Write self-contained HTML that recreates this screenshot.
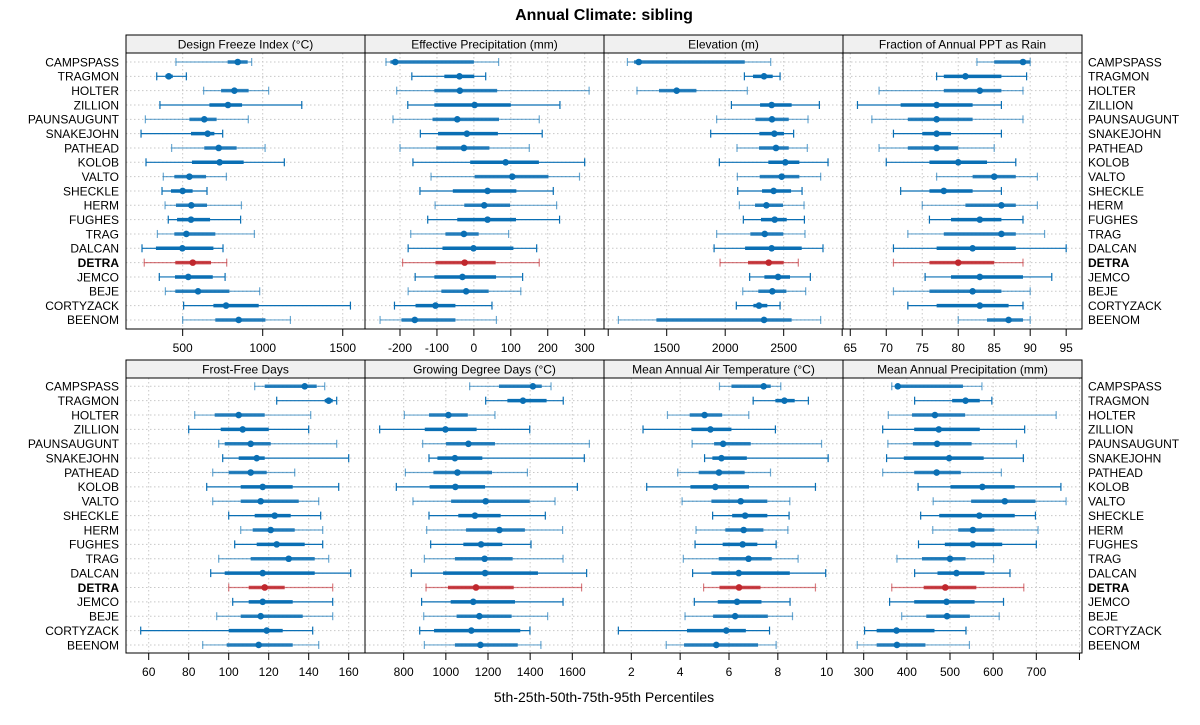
<!DOCTYPE html>
<html><head><meta charset="utf-8"><style>
html,body{margin:0;padding:0;background:#fff;}
svg{display:block;font-family:"Liberation Sans",Arial,sans-serif;}
</style></head><body>
<svg id="chart" width="1200" height="725" viewBox="0 0 1200 725">
<text x="604" y="20" text-anchor="middle" font-size="16" font-weight="bold">Annual Climate: sibling</text>
<text x="604" y="702" text-anchor="middle" font-size="14">5th-25th-50th-75th-95th Percentiles</text>
</svg>
<script>
const stations = ["CAMPSPASS","TRAGMON","HOLTER","ZILLION","PAUNSAUGUNT","SNAKEJOHN","PATHEAD","KOLOB","VALTO","SHECKLE","HERM","FUGHES","TRAG","DALCAN","DETRA","JEMCO","BEJE","CORTYZACK","BEENOM"];
const highlight = "DETRA";
const panelTitles = ["Design Freeze Index (°C)","Effective Precipitation (mm)","Elevation (m)","Fraction of Annual PPT as Rain","Frost-Free Days","Growing Degree Days (°C)","Mean Annual Air Temperature (°C)","Mean Annual Precipitation (mm)"];
const freezeIndex = [[458,781,844,906,931],[338,392,413,438,523],[631,740,823,912,1037],[358,667,783,871,1244],[267,542,635,712,910],[240,552,656,698,750],[431,635,725,837,1015],[271,558,731,881,1135],[379,448,542,646,773],[371,427,500,562,652],[390,458,554,652,867],[410,465,552,671,862],[342,448,523,704,948],[246,333,498,692,752],[260,454,563,677,775],[354,452,535,688,765],[392,454,596,792,981],[506,692,771,975,1548],[500,704,850,1017,1173]];
const effPrecip = [[-238,-226,-213,0,67],[-168,-80,-39,1,32],[-209,-107,-38,63,312],[-179,-107,2,100,233],[-219,-112,-45,68,177],[-145,-97,-19,65,185],[-200,-102,-27,42,150],[-165,-10,86,176,300],[-116,2,104,202,286],[-146,-57,37,115,215],[-105,-26,28,98,224],[-125,-45,37,114,232],[-171,-77,-27,13,94],[-178,-85,-1,107,170],[-193,-104,-25,59,177],[-159,-107,-31,60,132],[-178,-88,-21,40,127],[-215,-158,-104,-50,49],[-254,-196,-160,-50,61]];
const elevation = [[1164,1221,1261,2167,2389],[2164,2238,2332,2406,2469],[1246,1434,1585,1754,2189],[2053,2298,2397,2568,2805],[1927,2258,2400,2543,2708],[1876,2292,2420,2503,2585],[2101,2289,2434,2543,2702],[1950,2369,2514,2634,2879],[2104,2295,2483,2634,2816],[2107,2315,2414,2563,2657],[2121,2255,2352,2494,2674],[2155,2306,2423,2526,2677],[1927,2215,2338,2497,2682],[1905,2170,2397,2654,2836],[1956,2195,2372,2500,2625],[2209,2335,2452,2554,2728],[2150,2283,2403,2523,2688],[2095,2241,2289,2360,2469],[1087,1412,2332,2568,2816]];
const rainFraction = [[82.6,85,89,90,90],[77,78,81,86,89.5],[69,78,83,86,89],[66,72,77,82,86],[68,73,77,82,89],[71,75,77,79,86],[69,73,77,80,85],[70,76,80,84,88],[77,82,85,88,91],[72,76,78,82,86],[75,81,86,88,91],[76,79,83,86,89],[73,78,86,88,92],[71,77,82,88,95],[71,76,80,85,89],[75.4,79,83,89,93],[71,76,82,86,90],[73,77,83,87,89],[80,84,87,89,90]];
const frostFree = [[113,118,138,144,148],[124,148,150,152,154],[83,93,105,118,141],[80,96,107,120,140],[95,98,111,121,154],[97,105,114,118,160],[92,100,111,119,133],[89,106,117,132,155],[92,106,116,135,145],[100,113,123,131,146],[106,112,121,133,147],[103,114,124,138,147],[95,111,130,143,150],[91,98,117,143,161],[100,110,118,128,152],[102,110,117,132,152],[94,106,116,137,152],[56,100,119,127,142],[87,99,115,132,145]];
const growingDD = [[1113,1252,1413,1455,1499],[1189,1292,1366,1478,1557],[803,920,1012,1104,1233],[686,900,998,1146,1398],[890,1001,1107,1233,1681],[920,960,1043,1173,1657],[808,941,1055,1219,1387],[765,923,1045,1186,1624],[844,1025,1189,1398,1518],[920,1059,1138,1260,1472],[909,1096,1254,1375,1554],[928,1083,1167,1268,1404],[898,1043,1184,1317,1556],[836,987,1186,1437,1668],[906,1010,1143,1322,1644],[885,1023,1130,1328,1556],[895,1051,1159,1312,1483],[876,944,1121,1353,1399],[898,1043,1164,1341,1451]];
const meanTemp = [[5.61,6.1,7.42,7.71,8.12],[6.99,7.9,8.27,8.69,9.25],[3.48,4.39,5.0,5.72,6.81],[2.48,4.46,5.24,6.1,7.9],[4.49,5.39,5.76,6.89,9.79],[5.0,5.32,5.69,6.73,10.06],[3.9,4.76,5.59,6.64,7.7],[2.63,4.42,5.44,6.82,9.54],[4.08,5.28,6.48,7.57,8.49],[5.33,6.13,6.66,7.57,8.46],[4.65,5.85,6.6,7.41,8.41],[4.61,5.74,6.56,7.16,7.93],[4.13,5.58,6.8,7.75,8.83],[4.51,5.28,6.4,8.49,9.96],[4.96,5.61,6.41,7.29,9.54],[4.58,5.54,6.33,7.33,8.5],[4.2,5.35,6.25,7.59,8.6],[1.47,4.28,5.89,6.69,7.66],[3.43,4.16,5.48,7.19,7.93]];
const meanPrecip = [[365,376,379,530,574],[418,505,536,569,597],[357,412,465,535,746],[344,417,474,569,673],[356,414,470,550,654],[353,393,498,578,670],[344,417,469,525,619],[426,501,575,650,757],[461,549,627,698,769],[432,475,568,650,698],[460,519,553,603,704],[427,488,553,621,700],[377,435,500,536,601],[418,471,515,580,639],[365,439,489,561,671],[360,417,492,557,624],[388,445,493,546,614],[302,330,376,464,537],[285,330,377,443,545]];
const tickValues = [[500,1000,1500],[-200,-100,0,100,200,300],[1000,1500,2000,2500,3000],[65,70,75,80,85,90,95],[60,80,100,120,140,160],[800,1000,1200,1400,1600],[2,4,6,8,10],[300,400,500,600,700,800]];

const series = [freezeIndex,effPrecip,elevation,rainFraction,frostFree,growingDD,meanTemp,meanPrecip];
const domains = [[146,1639],[-294.8,352.3],[964,3007],[63.99,97.2],[48.65,168.15],[616.4,1750.4],[0.882,10.668],[252,805.9]];
const NS="http://www.w3.org/2000/svg";
const svg=document.getElementById('chart');
const colX=[126,365,604,843], colW=239;
const rowsLayout=[{hTop:35,hBot:53,pBot:329,y0:62,dy:14.33},{hTop:360,hBot:378,pBot:653,y0:386.3,dy:14.37}];
function mk(tag,attrs,parent){const e=document.createElementNS(NS,tag);for(const k in attrs)e.setAttribute(k,attrs[k]);(parent||svg).appendChild(e);return e;}

for(let p=0;p<8;p++){
  const r=Math.floor(p/4), c=p%4, L=rowsLayout[r];
  const x0=colX[c], x1=x0+colW, dom=domains[p];
  const sx=v=>x0+(v-dom[0])/(dom[1]-dom[0])*colW;
  const sy=i=>L.y0+i*L.dy;
  const g=mk('g',{});
  
  
  const strip=mk('rect',{x:x0,y:L.hTop,width:colW,height:L.hBot-L.hTop,fill:'#f0f0f0',stroke:'#000','stroke-width':1},g);
  
  
  const st=mk('text',{x:x0+colW/2,y:L.hTop+13.5,'text-anchor':'middle','font-size':12},g);
  st.textContent=panelTitles[p];
  
  
  for(let i=0;i<stations.length;i++){
    mk('line',{x1:x0,x2:x1,y1:sy(i),y2:sy(i),stroke:'#c8c8c8','stroke-dasharray':'1.5,2.5','stroke-width':1},g);
  }
  tickValues[p].forEach(t=>{
    const x=sx(t); if(x<x0-0.5||x>x1+0.5)return;
    mk('line',{x1:x,x2:x,y1:L.hBot,y2:L.pBot,stroke:'#c8c8c8','stroke-dasharray':'1.5,2.5','stroke-width':1},g);
    const tk=mk('line',{x1:x,x2:x,y1:L.pBot,y2:L.pBot+7,stroke:'#000','stroke-width':1},g);
    
    
    if(x>x0+6&&x<x1-6){
      const tl=mk('text',{x:x,y:L.pBot+23,'text-anchor':'middle','font-size':12},g);
      tl.textContent=t;
      
      
    }
  });
  series[p].forEach((q,i)=>{
    const col=stations[i]===highlight?'#c0272d':'#0a6fb4';
    const light=(i%2===0)?0.6:1;
    const y=sy(i);
    const bg=mk('g',{},g);
    
    
    mk('line',{x1:sx(q[0]),x2:sx(q[4]),y1:y,y2:y,stroke:col,'stroke-width':1.2,'stroke-opacity':light},bg);
    mk('line',{x1:sx(q[0]),x2:sx(q[0]),y1:y-4,y2:y+4,stroke:col,'stroke-width':1.2,'stroke-opacity':light},bg);
    mk('line',{x1:sx(q[4]),x2:sx(q[4]),y1:y-4,y2:y+4,stroke:col,'stroke-width':1.2,'stroke-opacity':light},bg);
    mk('line',{x1:sx(q[1]),x2:sx(q[3]),y1:y,y2:y,stroke:col,'stroke-width':3.5,'stroke-opacity':light===1?1:0.85},bg);
    mk('circle',{cx:sx(q[2]),cy:y,r:3.3,fill:col},bg);
  });
  const fr=mk('rect',{x:x0,y:L.hBot,width:colW,height:L.pBot-L.hBot,fill:'none',stroke:'#000','stroke-width':1},g);
  
  
}
for(let r=0;r<2;r++){
  const L=rowsLayout[r];
  stations.forEach((s,i)=>{
    const y=L.y0+i*L.dy+4.3;
    const b=s===highlight?'bold':'normal';
    const a=mk('text',{x:119,y:y,'text-anchor':'end','font-size':12,'font-weight':b});
    a.textContent=s;
    
    
    const c=mk('text',{x:1088,y:y,'text-anchor':'start','font-size':12,'font-weight':b});
    c.textContent=s;
    
    
  });
}
</script>
</body></html>
